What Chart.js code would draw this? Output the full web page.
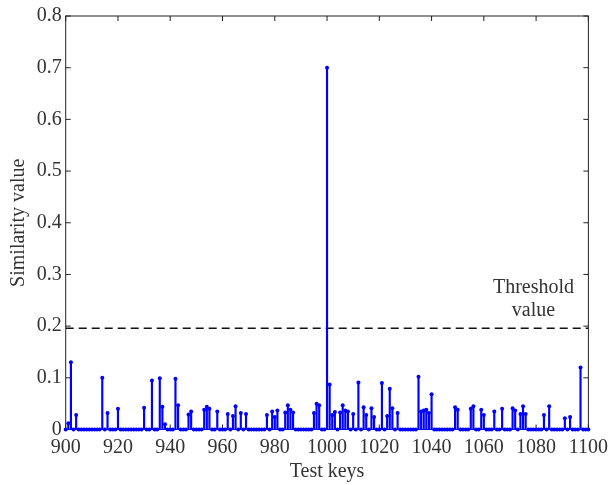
<!DOCTYPE html>
<html>
<head>
<meta charset="utf-8">
<script src="https://cdn.jsdelivr.net/npm/chart.js@4.4.1/dist/chart.umd.min.js"></script>
<style>
  html, body { margin: 0; padding: 0; background: #fff; }
  #wrap { width: 614px; height: 485px; }
</style>
</head>
<body>
<div id="wrap"><canvas id="stemChart" width="614" height="485"></canvas></div>
<script>
// x axis: test keys
const firstKey = 900;
const lastKey = 1100;
const xTicks = [900, 920, 940, 960, 980, 1000, 1020, 1040, 1060, 1080, 1100];
const yTicks = [0, 0.1, 0.2, 0.3, 0.4, 0.5, 0.6, 0.7, 0.8];

// keys with a non zero similarity (all other keys are 0)
const hitKeys = [901, 902, 904, 914, 916, 920, 930, 933, 936, 937, 938, 942, 943, 947, 948,
  953, 954, 955, 958, 962, 964, 965, 967, 969, 977, 979, 980, 981, 984, 985, 986, 987,
  995, 996, 997, 1000, 1001, 1002, 1003, 1005, 1006, 1007, 1008, 1010, 1012, 1014, 1015,
  1017, 1018, 1021, 1023, 1024, 1025, 1027, 1035, 1036, 1037, 1038, 1039, 1040, 1049,
  1050, 1055, 1056, 1059, 1060, 1064, 1067, 1071, 1072, 1074, 1075, 1076, 1083, 1085,
  1091, 1093, 1097];
const hitValues = [0.012, 0.130, 0.028, 0.100, 0.032, 0.040, 0.042, 0.095, 0.099, 0.044, 0.010, 0.098, 0.047, 0.029, 0.035,
  0.038, 0.044, 0.040, 0.035, 0.030, 0.026, 0.045, 0.032, 0.030, 0.028, 0.035, 0.024, 0.037, 0.033, 0.047, 0.038, 0.033,
  0.032, 0.050, 0.047, 0.700, 0.087, 0.028, 0.034, 0.033, 0.047, 0.037, 0.035, 0.030, 0.091, 0.043, 0.028,
  0.041, 0.024, 0.090, 0.026, 0.079, 0.041, 0.032, 0.102, 0.035, 0.037, 0.038, 0.032, 0.068, 0.043,
  0.038, 0.040, 0.045, 0.038, 0.028, 0.035, 0.040, 0.041, 0.037, 0.030, 0.045, 0.030, 0.028, 0.045,
  0.022, 0.024, 0.120];

const threshold = 0.196;

const stemBlue = '#0000ff';
const textColor = '#333333';
const fontFamily = "'Liberation Serif', 'DejaVu Serif', serif";

// every key gets a marker, zero unless it is a hit
const markerPoints = [];
for (let k = firstKey; k <= lastKey; k++) {
  const i = hitKeys.indexOf(k);
  markerPoints.push({ x: k, y: i >= 0 ? hitValues[i] : 0 });
}
const stemPoints = hitKeys.map((k, i) => ({ x: k, y: hitValues[i] }));

const framePlugin = {
  id: 'frame',
  beforeDatasetsDraw(chart) {
    const { ctx, chartArea: a, scales: { x, y } } = chart;
    ctx.save();
    ctx.strokeStyle = '#222';
    ctx.lineWidth = 1;
    ctx.strokeRect(a.left, a.top, a.right - a.left, a.bottom - a.top);
    ctx.beginPath();
    xTicks.forEach(v => {
      const px = x.getPixelForValue(v);
      ctx.moveTo(px, a.bottom); ctx.lineTo(px, a.bottom - 5);
      ctx.moveTo(px, a.top); ctx.lineTo(px, a.top + 5);
    });
    yTicks.forEach(v => {
      const py = y.getPixelForValue(v);
      ctx.moveTo(a.left, py); ctx.lineTo(a.left + 5, py);
      ctx.moveTo(a.right, py); ctx.lineTo(a.right - 5, py);
    });
    ctx.stroke();
    ctx.restore();
  },
  afterDraw(chart) {
    const { ctx, chartArea: a, scales: { x, y } } = chart;
    ctx.save();
    ctx.fillStyle = textColor;
    ctx.font = '20px ' + fontFamily;
    ctx.textAlign = 'center';
    ctx.textBaseline = 'middle';
    // axis titles
    ctx.fillText('Test keys', (a.left + a.right) / 2, 472);
    ctx.save();
    ctx.translate(19, (a.top + a.bottom) / 2);
    ctx.rotate(-Math.PI / 2);
    ctx.fillText('Similarity value', 0, 0);
    ctx.restore();
    // threshold label
    const lx = x.getPixelForValue(1079);
    const ty = y.getPixelForValue(threshold);
    ctx.fillText('Threshold', lx, ty - 40);
    ctx.fillText('value', lx, ty - 17);
    ctx.restore();
  }
};

const ctx = document.getElementById('stemChart').getContext('2d');

let stemChart = new Chart(ctx, {
  type: 'bar',
  data: {
    datasets: [
      {
        type: 'scatter',
        data: markerPoints,
        pointRadius: 2,
        pointBackgroundColor: stemBlue,
        pointBorderWidth: 0,
        showLine: false,
        clip: false,
        order: 0
      },
      {
        type: 'bar',
        data: stemPoints,
        backgroundColor: stemBlue,
        borderWidth: 0,
        barThickness: 1.5,
        order: 1
      },
      {
        type: 'line',
        data: [{ x: firstKey, y: 0 }, { x: lastKey, y: 0 }],
        borderColor: stemBlue,
        borderWidth: 1,
        pointRadius: 0,
        clip: false,
        order: 2
      },
      {
        type: 'line',
        data: [{ x: firstKey, y: threshold }, { x: lastKey, y: threshold }],
        borderColor: '#111',
        borderWidth: 1.4,
        borderDash: [8, 5],
        pointRadius: 0,
        order: 3
      }
    ]
  },
  options: {
    responsive: false,
    animation: false,
    devicePixelRatio: 1,
    layout: { padding: { left: 0, top: 14.5, right: 23, bottom: 0 } },
    plugins: { legend: { display: false }, tooltip: { enabled: false } },
    scales: {
      x: {
        type: 'linear',
        min: firstKey,
        max: lastKey,
        offset: false,
        afterBuildTicks: s => { s.ticks = xTicks.map(v => ({ value: v })); },
        afterFit: s => { s.height = 485 - 429.5; },
        grid: { display: false, offset: false, drawTicks: false },
        border: { display: false },
        ticks: {
          padding: 6,
          color: textColor,
          font: { family: fontFamily, size: 20 },
          maxRotation: 0,
          autoSkip: false,
          callback: v => String(v)
        }
      },
      y: {
        min: 0,
        max: 0.8,
        afterBuildTicks: s => { s.ticks = yTicks.map(v => ({ value: v })); },
        afterFit: s => { s.width = 65.7; },
        grid: { display: false, drawTicks: false },
        border: { display: false },
        ticks: {
          padding: 4,
          color: textColor,
          font: { family: fontFamily, size: 20 },
          callback: v => (v === 0 ? '0' : v.toFixed(1))
        }
      }
    }
  },
  plugins: [framePlugin]
});
</script>
</body>
</html>
